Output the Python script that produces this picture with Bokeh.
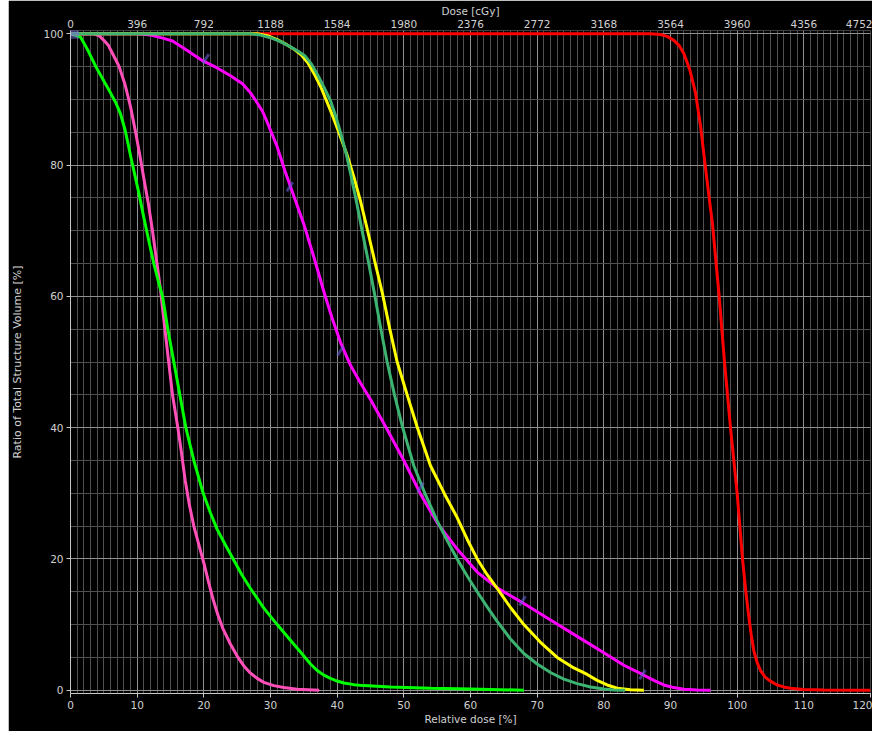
from bokeh.plotting import figure
from bokeh.models import Range1d, LinearAxis, FixedTicker
from bokeh.embed import file_html
from bokeh.resources import INLINE

# ---- data (relative dose [%], volume [%]) ----
red_x = [0, 87, 88.5, 89.5, 90.5, 91.3, 92, 92.9, 93.75, 94.5, 95.2, 95.8, 96.3, 96.8, 97.3, 98.1, 99, 100, 100.8, 101.3, 101.7, 102.1, 102.5, 103, 103.5, 104.2, 104.8, 106, 107, 108, 110, 113, 120]
red_y = [100, 100, 99.9, 99.6, 99, 98.2, 97, 94.5, 91, 86, 80, 75, 71, 65.5, 60, 50, 40, 30, 20, 15, 11.6, 8.5, 6, 4.2, 3, 2, 1.5, 0.8, 0.5, 0.3, 0.1, 0.02, 0]

pink_x = [0, 3.5, 4.3, 5, 5.7, 6.3, 6.8, 7.3, 8.2, 9, 9.8, 10.4, 11, 11.7, 12.3, 12.9, 13.5, 14, 14.5, 15.3, 16.1, 16.6, 17.2, 17.8, 18.5, 19.3, 20.1, 20.7, 21.4, 22.1, 22.9, 24, 25, 26, 27, 28, 29, 30.5, 32, 34, 37.3]
pink_y = [100, 100, 99.7, 99, 98.2, 97, 96, 95, 92.2, 88.9, 84.8, 81.5, 78, 74, 70, 65.5, 61, 56.5, 52, 45, 40, 36.5, 32, 28.4, 25, 22, 19, 16.5, 13.8, 11.5, 9.3, 7, 5.2, 3.7, 2.6, 1.8, 1.2, 0.7, 0.4, 0.15, 0]

green_x = [0, 1.5, 2.5, 3.8, 5, 6, 6.8, 7.5, 8.2, 9.1, 10.2, 11, 11.8, 12.5, 13.2, 13.8, 14.6, 15.5, 16.4, 17.3, 18.5, 19.9, 21, 22, 23.2, 24.4, 25.7, 27, 29, 31, 33.5, 35, 36, 37, 38, 39, 40, 41, 42.5, 44, 48, 54, 60, 68]
green_y = [100, 99.5, 97.7, 95, 92.8, 91, 89.5, 87.8, 85.3, 81, 76, 72, 68.2, 65, 62.2, 60, 55, 50, 45, 40, 35, 30, 27, 24.5, 22.2, 20, 17.6, 15.5, 12.5, 10, 7, 5.2, 4, 3, 2.3, 1.8, 1.4, 1.1, 0.85, 0.7, 0.5, 0.3, 0.2, 0]

magenta_x = [0, 10, 12, 14, 15.3, 17, 19.8, 22, 24, 25.8, 27, 27.8, 28.8, 29.6, 31, 32.3, 33.5, 35, 36.5, 38.1, 39.3, 40.5, 42, 43.5, 45, 47.3, 50, 52.5, 55, 58, 61, 64, 68, 72, 76, 80, 83, 85.8, 87.5, 89, 90.5, 92, 94, 96]
magenta_y = [100, 100, 99.8, 99.3, 98.9, 97.8, 95.9, 94.8, 93.6, 92.4, 91, 89.8, 88.2, 86.3, 82.8, 78.7, 75.3, 71, 66, 60.4, 56.5, 53, 49.5, 46.8, 44.3, 40.1, 35, 29.9, 25.5, 21.5, 18, 15.6, 13.2, 10.7, 8.2, 5.7, 3.8, 2.4, 1.5, 0.8, 0.4, 0.15, 0.05, 0]

yellow_x = [0, 28, 29.5, 31, 32.5, 33.6, 34.6, 35.6, 36.5, 37.5, 38.4, 39.4, 40.4, 41.5, 42.5, 43.5, 44.5, 45.6, 46.8, 47.9, 49, 50.5, 52, 54, 56.1, 58, 59.5, 61, 62.5, 64, 66, 68, 70.5, 73, 75.5, 77.5, 79, 80.5, 82, 84, 86]
yellow_y = [100, 100, 99.7, 99.1, 98.3, 97.6, 96.8, 95.6, 94, 92, 89.8, 87.3, 84.6, 81.5, 78.2, 74.5, 70.3, 65.5, 60.4, 55, 50, 45, 40.1, 34.2, 29.9, 26.3, 23, 20, 17.6, 15.5, 12.6, 10, 7.3, 5, 3.4, 2.4, 1.5, 0.8, 0.3, 0.08, 0]

teal_x = [0, 27, 28.5, 30, 31.5, 33, 34.2, 35.2, 36.2, 37.2, 38.2, 39, 39.8, 40.6, 41.4, 42.1, 42.9, 43.7, 44.7, 45.6, 46.5, 47.5, 48.6, 49.8, 51.5, 53.2, 55, 56.5, 58, 59.5, 61, 62.5, 64, 66, 68, 70, 72, 74, 76, 78, 80, 81.5, 83.2]
teal_y = [100, 100, 99.8, 99.4, 98.8, 98, 97.3, 96.6, 95.3, 93.5, 91.5, 89.8, 87.4, 84.6, 81.5, 78.3, 74.4, 70.2, 65.2, 60.4, 55.3, 50, 45, 40.1, 34.2, 29.9, 25.8, 22.8, 20, 17.4, 15, 12.7, 10.5, 7.8, 5.6, 4, 2.7, 1.7, 1, 0.5, 0.2, 0.05, 0]

mark_x = [20.3, 32.9, 40.5, 52.5, 67.8, 85.8]
mark_y = [96.2, 76.7, 51.7, 30.9, 13.6, 2.4]

x_ticks = [0, 10, 20, 30, 40, 50, 60, 70, 80, 90, 100, 110, 120]
y_ticks = [0, 20, 40, 60, 80, 100]
dose_per_pct = 39.6
dose_ticks = [0, 396, 792, 1188, 1584, 1980, 2376, 2772, 3168, 3564, 3960, 4356, 4752]

FONT = "DejaVu Sans"
TXT = "#d0d0d0"

p = figure(frame_width=800, frame_height=663,
           x_range=Range1d(0, 120), y_range=Range1d(-0.5, 100.5),
           output_backend="svg", toolbar_location=None,
           min_border_left=62, min_border_right=2, min_border_top=30, min_border_bottom=38,
           background_fill_color="black", border_fill_color="black",
           outline_line_color=None)
p.margin = (0, 0, 0, 8)

p.extra_x_ranges = {"dose": Range1d(0, 120 * dose_per_pct)}

# grids
p.xaxis.ticker = FixedTicker(ticks=x_ticks, minor_ticks=list(range(0, 121)))
p.yaxis.ticker = FixedTicker(ticks=y_ticks, minor_ticks=list(range(0, 101, 5)))
p.xgrid.ticker = p.xaxis.ticker
p.ygrid.ticker = p.yaxis.ticker
for g in (p.xgrid, p.ygrid):
    g.grid_line_color = "#909090"
    g.grid_line_width = 1
    g.minor_grid_line_color = "#505050"
    g.minor_grid_line_width = 1

top = LinearAxis(x_range_name="dose", axis_label="Dose [cGy]",
                 ticker=FixedTicker(ticks=dose_ticks))
p.add_layout(top, "above")

p.below[0].axis_label = "Relative dose [%]"
p.yaxis.axis_label = "Ratio of Total Structure Volume [%]"

for ax in p.xaxis + p.yaxis:
    ax.axis_line_color = "#c8c8c8"
    ax.major_tick_line_color = "#c8c8c8"
    ax.major_tick_out = 4
    ax.major_tick_in = 0
    ax.minor_tick_line_color = None
    ax.major_label_text_color = TXT
    ax.major_label_text_font = FONT
    ax.major_label_text_font_size = "10.5px"
    ax.axis_label_text_color = TXT
    ax.axis_label_text_font = FONT
    ax.axis_label_text_font_size = "10.5px"
    ax.axis_label_text_font_style = "normal"
    ax.major_label_standoff = 3
    ax.axis_label_standoff = 1
top.axis_line_color = None
top.major_tick_line_color = None
top.major_tick_out = 1
top.major_label_standoff = 2
top.axis_label_standoff = 0
p.yaxis.axis_label_standoff = 16
p.yaxis.axis_label_text_font_size = "11px"

# curves (draw order so teal lies on top at 100 %)
LW = 3
p.line(red_x, red_y, line_color="#ff0000", line_width=LW)
p.line(pink_x, pink_y, line_color="#ff4fb8", line_width=LW)
p.line(green_x, green_y, line_color="#00ff00", line_width=LW)
p.line(magenta_x, magenta_y, line_color="#ff00ff", line_width=LW)
p.line(yellow_x, yellow_y, line_color="#ffff00", line_width=LW)
p.line(teal_x, teal_y, line_color="#3cb371", line_width=LW)

p.scatter(mark_x, mark_y, marker="dash", size=11, angle=1.0,
          line_color="#6060d0", line_width=3, line_alpha=0.6)
p.scatter([0.5], [100], marker="square", size=10, fill_color="#7b68ee",
          fill_alpha=0.5, line_color=None)

open("out.html", "w").write(file_html(p, INLINE))
